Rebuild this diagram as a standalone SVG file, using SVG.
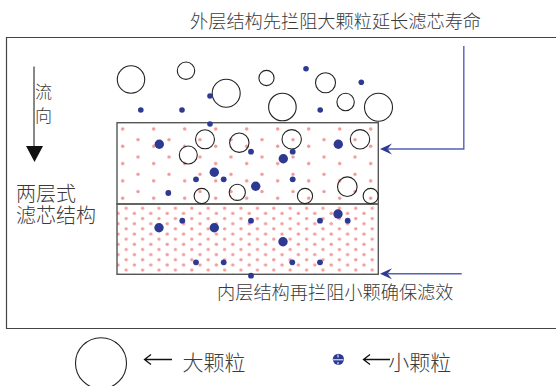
<svg xmlns="http://www.w3.org/2000/svg" width="556" height="386" viewBox="0 0 556 386">
<defs>
<style>
text{font-family:"Noto Sans CJK SC","Noto Sans",sans-serif;fill:#3a3a3a;font-weight:300}
.big{fill:none;stroke:#222;stroke-width:1.1}
.sd{fill:#2e3a92}
.conn{stroke:#5560b8;stroke-width:1.4;fill:none}
.head{fill:#2e3a92}
.pk{fill:#f39b9b}
.box{fill:none;stroke:#555;stroke-width:1.4}
</style>
<pattern id="pTop" patternUnits="userSpaceOnUse" x="115" y="120" width="31" height="17.3">
<circle class="pk" cx="7.7" cy="9" r="1.75"/>
<circle class="pk" cx="23" cy="2.4" r="1.75"/>
</pattern>
<pattern id="pBot" patternUnits="userSpaceOnUse" x="113.9" y="205.7" width="16.4" height="10.3">
<circle class="pk" cx="12.3" cy="2.6" r="1.7"/>
<circle class="pk" cx="4.1" cy="7.75" r="1.7"/>
</pattern>
</defs>
<rect width="556" height="386" fill="#fff"/>

<g id="frame">
<path d="M600,37.5 H6.5 V328.5 H600" fill="none" stroke="#444" stroke-width="1.2"/>
</g>

<g id="title-outer">
<text x="190" y="27.8" font-size="18.2">外层结构先拦阻大颗粒延长滤芯寿命</text>
</g>

<g id="flow">
<line x1="34" y1="66.5" x2="34" y2="147" stroke="#111" stroke-width="1"/>
<polygon points="26,146 43,146 34.5,162" fill="#111"/>
<text font-size="17"><tspan x="35" y="97.5">流</tspan><tspan x="35" y="121.5">向</tspan></text>
</g>

<g id="label-structure">
<text font-size="20"><tspan x="16" y="200.5">两层式</tspan><tspan x="16" y="222.5">滤芯结构</tspan></text>
</g>

<g id="outer-layer">
<rect x="117" y="124" width="261" height="79.5" fill="url(#pTop)"/>
<rect class="box" x="117" y="122.7" width="261.3" height="81.3"/>
</g>

<g id="inner-layer">
<rect x="117" y="205" width="261" height="69" fill="url(#pBot)"/>
<rect class="box" x="117" y="204" width="261.3" height="70.3"/>
</g>

<g id="large-particles">
<circle class="big" cx="131" cy="79.5" r="13.7"/>
<circle class="big" cx="186" cy="70.7" r="8.7"/>
<circle class="big" cx="226.2" cy="93.3" r="14"/>
<circle class="big" cx="266.5" cy="78" r="7.6"/>
<circle class="big" cx="282.4" cy="107" r="13.8"/>
<circle class="big" cx="325.5" cy="82.7" r="10"/>
<circle class="big" cx="345.6" cy="102" r="8.7"/>
<circle class="big" cx="378.5" cy="107.3" r="14"/>
<circle class="big" cx="205" cy="139.3" r="9.5"/>
<circle class="big" cx="188.3" cy="155" r="9"/>
<circle class="big" cx="239.3" cy="142.7" r="9.7"/>
<circle class="big" cx="291.7" cy="139.3" r="9.7"/>
<circle class="big" cx="360" cy="139.3" r="9.7"/>
<circle class="big" cx="201.7" cy="196" r="7.6"/>
<circle class="big" cx="237.3" cy="192.3" r="8.1"/>
<circle class="big" cx="305" cy="196" r="7.6"/>
<circle class="big" cx="347.3" cy="186.7" r="9.8"/>
<circle class="big" cx="370.7" cy="196" r="7.6"/>
</g>

<g id="small-particles">
<circle class="sd" cx="306" cy="68.7" r="2.8"/>
<circle class="sd" cx="361.3" cy="82.3" r="2.8"/>
<circle class="sd" cx="210" cy="96" r="2.8"/>
<circle class="sd" cx="140.8" cy="110" r="2.8"/>
<circle class="sd" cx="182" cy="110" r="2.8"/>
<circle class="sd" cx="320.2" cy="110" r="2.8"/>
<circle class="sd" cx="210" cy="124" r="2.8"/>
<circle class="sd" cx="159.3" cy="144.3" r="4.7"/>
<circle class="sd" cx="338.3" cy="144.3" r="4.7"/>
<circle class="sd" cx="283.3" cy="158.7" r="4.7"/>
<circle class="sd" cx="214.3" cy="172.3" r="4.7"/>
<circle class="sd" cx="255.7" cy="186.3" r="4.7"/>
<circle class="sd" cx="251" cy="151.7" r="2.9"/>
<circle class="sd" cx="292.7" cy="151.7" r="2.9"/>
<circle class="sd" cx="196" cy="179.3" r="2.9"/>
<circle class="sd" cx="223.7" cy="179.3" r="2.9"/>
<circle class="sd" cx="292.7" cy="179.3" r="2.9"/>
<circle class="sd" cx="168.3" cy="193" r="2.9"/>
<circle class="sd" cx="159" cy="227.7" r="4.7"/>
<circle class="sd" cx="214.3" cy="227.7" r="4.7"/>
<circle class="sd" cx="283" cy="241.7" r="4.7"/>
<circle class="sd" cx="338" cy="214" r="4.7"/>
<circle class="sd" cx="182.3" cy="220.7" r="2.9"/>
<circle class="sd" cx="251" cy="220.7" r="2.9"/>
<circle class="sd" cx="320" cy="220.7" r="2.9"/>
<circle class="sd" cx="347.7" cy="220.7" r="2.9"/>
<circle class="sd" cx="196" cy="262.3" r="2.9"/>
<circle class="sd" cx="223.7" cy="262.3" r="2.9"/>
<circle class="sd" cx="292.3" cy="262.3" r="2.9"/>
<circle class="sd" cx="320" cy="262.3" r="2.9"/>
<circle class="sd" cx="251" cy="275.7" r="2.9"/>
</g>

<g id="connectors">
<path class="conn" d="M463.8,46 V149 H388"/>
<path class="head" d="M380,149 L392,143.5 L387.5,149 L392,154.5 Z"/>
<path class="conn" d="M461.7,273.8 H388"/>
<path class="head" d="M380,273.8 L392,268.3 L387.5,273.8 L392,279.3 Z"/>
</g>

<g id="title-inner">
<text x="217" y="298.5" font-size="18.2">内层结构再拦阻小颗确保滤效</text>
</g>

<g id="legend-large">
<circle class="big" cx="101" cy="363.2" r="25.5"/>
<path d="M144.5,359.5 H172 M151,354.5 L144.5,359.5 L151,364.5" fill="none" stroke="#111" stroke-width="1.3"/>
<text x="182.6" y="369.5" font-size="21">大颗粒</text>
</g>

<g id="legend-small">
<circle class="sd" cx="338.4" cy="359.3" r="5.6"/>
<path d="M333,359.8 H343.5 M338,354.5 V357.5 M338,362 V364.5" stroke="#fff" stroke-width="1"/>
<path d="M363.5,359.5 H390 M370,354.5 L363.5,359.5 L370,364.5" fill="none" stroke="#111" stroke-width="1.3"/>
<text x="388.3" y="369.5" font-size="21">小颗粒</text>
</g>
</svg>
